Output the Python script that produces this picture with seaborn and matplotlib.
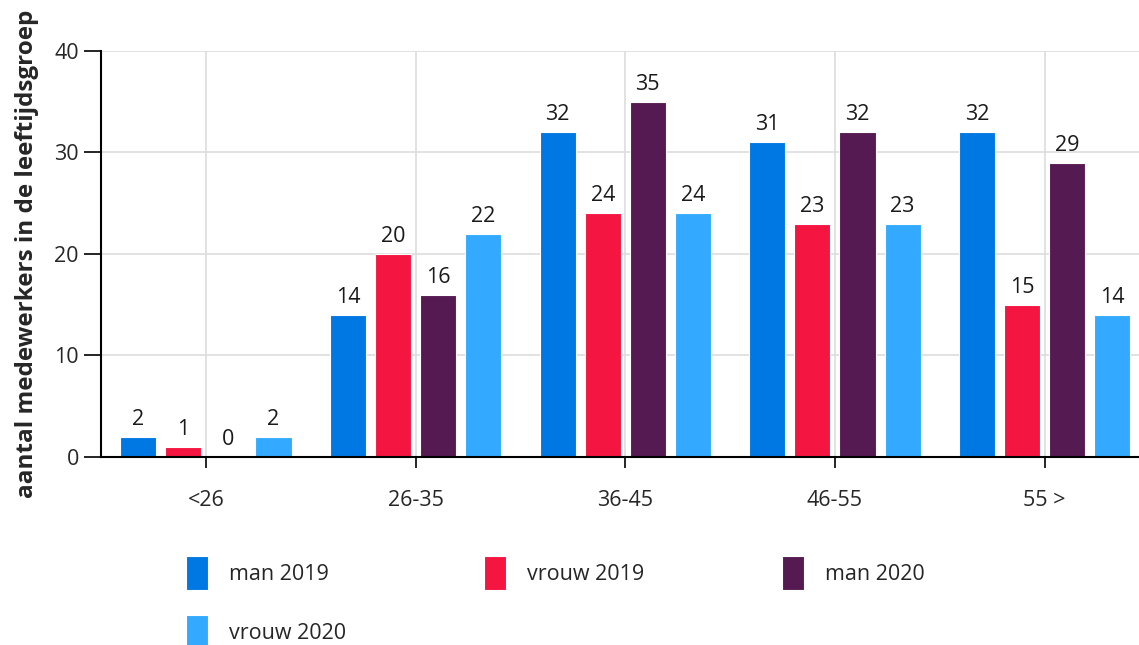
import pandas as pd
import matplotlib.pyplot as plt
import seaborn as sns

categories = ['<26', '26-35', '36-45', '46-55', '55 >']
series = ['man 2019', 'vrouw 2019', 'man 2020', 'vrouw 2020']
man_2019 = [2, 14, 32, 31, 32]
vrouw_2019 = [1, 20, 24, 23, 15]
man_2020 = [0, 16, 35, 32, 29]
vrouw_2020 = [2, 22, 24, 23, 14]
colors = ['#0078E3', '#F51541', '#551A52', '#33AAFF']

df = pd.DataFrame({'Leeftijd': categories * 4,
                   'Groep': [s for s in series for _ in categories],
                   'Aantal': man_2019 + vrouw_2019 + man_2020 + vrouw_2020})

sns.set_style('white')
plt.rcParams['font.family'] = ['Open Sans', 'DejaVu Sans']
fs = 15.5

fig = plt.figure(figsize=(11.39, 6.45), dpi=100)
ax = fig.add_axes([0.0887, 0.2915, 0.9113, 0.6295])

sns.barplot(data=df, x='Leeftijd', y='Aantal', hue='Groep', hue_order=series,
            palette=colors, width=0.86, gap=0.2, ax=ax, legend=True,
            linewidth=0.8, edgecolor='white', saturation=1)

for cont in ax.containers:
    ax.bar_label(cont, padding=5, fontsize=fs, color='#1a1a1a')

ax.set_ylim(0, 40)
ax.set_xlim(-0.5, 4.45)
ax.set_yticks([0, 10, 20, 30, 40])
ax.grid(True, color='#dddddd', linewidth=1.2)
ax.set_axisbelow(True)
for s in ['top', 'right']:
    ax.spines[s].set_visible(False)
for s in ['left', 'bottom']:
    ax.spines[s].set_color('black')
    ax.spines[s].set_linewidth(1.5)
ax.tick_params(axis='y', length=12, width=1.2, color='black', labelsize=fs, pad=4, left=True)
ax.tick_params(axis='x', length=8, width=1.2, color='black', labelsize=fs, pad=16, bottom=True)
ax.set_xlabel('')
ax.set_ylabel('aantal medewerkers in de leeftijdsgroep', fontsize=17.5, fontweight='bold', labelpad=11)

# row-wise legend order
handles, labels = ax.get_legend_handles_labels()
order = [0, 3, 1, 2]
ax.legend([handles[i] for i in order], [labels[i] for i in order],
          loc='upper left', bbox_to_anchor=(0.1633, 0.138), bbox_transform=fig.transFigure,
          ncol=3, frameon=False, fontsize=fs, handlelength=1.02, handleheight=2.06,
          handletextpad=0.98, columnspacing=6.4, labelspacing=1.15, borderaxespad=0, borderpad=0)

fig.savefig('out.png', dpi=100)
